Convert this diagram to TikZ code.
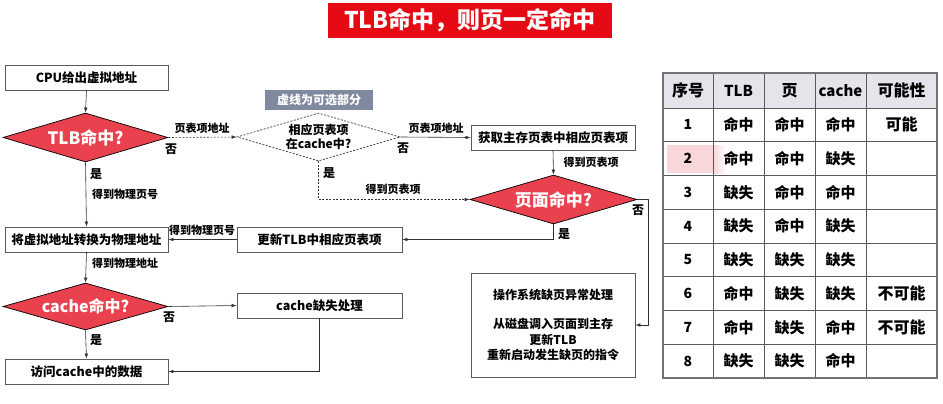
\documentclass[tikz,border=0pt]{standalone}
\usepackage{fontspec}
\setmainfont{Noto Sans CJK SC}
\usetikzlibrary{shapes.geometric,arrows.meta}
\definecolor{dred}{RGB}{234,65,78}
\definecolor{tred}{RGB}{230,10,20}
\definecolor{notegray}{RGB}{128,138,158}
\definecolor{headgray}{RGB}{227,229,234}
\definecolor{pinkhl}{RGB}{249,214,218}
\definecolor{lncol}{RGB}{50,50,50}
\begin{document}
\begin{tikzpicture}[x=1pt,y=-1pt,
  ln/.style={draw=lncol, line width=0.6pt},
  arr/.style={ln, -{Latex[length=5pt,width=3.6pt]}},
  dsh/.style={dash pattern=on 2pt off 1.5pt},
  box/.style={draw=black!65, line width=0.8pt, minimum height=25pt, inner sep=0pt, font=\fontsize{12.5}{14}\selectfont\bfseries},
  dia/.style={diamond, aspect=3.4, draw=black, line width=0.7pt, fill=dred, inner sep=0pt, text=white, font=\fontsize{17}{19}\selectfont\bfseries},
  lab/.style={font=\fontsize{11}{12}\selectfont\bfseries, inner sep=0pt},
  cell/.style={draw=black!65, line width=0.8pt, inner sep=0pt, font=\fontsize{15}{16}\selectfont\bfseries},
]
\useasboundingbox (0,0) rectangle (943,404);
\fill[white] (0,0) rectangle (943,404);

% title
\node[fill=tred, text=white, minimum width=284pt, minimum height=35pt, inner sep=0pt,
  font=\fontsize{23}{25}\selectfont\bfseries] (title) at (470,20.5) {TLB命中，则页一定命中};

% flow nodes
\node[box, minimum width=163pt] (cpu) at (86.5,77.5) {CPU给出虚拟地址};
\node[dia, minimum width=165pt, minimum height=49pt] (tlb) at (85.5,137.5) {TLB命中?};
\node[diamond, aspect=3.4, draw=lncol, dsh, line width=0.7pt, fill=white, inner sep=0pt, minimum width=163pt, minimum height=48pt,
  align=center, font=\fontsize{12}{13.5}\selectfont\bfseries] (opt) at (318.5,137) {相应页表项\\在cache中?};
\node[fill=notegray, text=white, minimum width=108pt, minimum height=20pt, inner sep=0pt,
  font=\fontsize{12}{13}\selectfont\bfseries] (note) at (319,100) {虚线为可选部分};
\node[box, minimum width=164pt] (fetch) at (553,137.5) {获取主存页表中相应页表项};
\node[dia, minimum width=167pt, minimum height=49pt] (page) at (553.5,199.5) {页面命中?};
\node[box, minimum width=165pt] (upd) at (319.5,239.5) {更新TLB中相应页表项};
\node[box, minimum width=163pt] (conv) at (86.5,239.5) {将虚拟地址转换为物理地址};
\node[dia, minimum width=165pt, minimum height=47pt, font=\fontsize{16}{18}\selectfont\bfseries] (cache) at (85.5,306.5) {cache命中?};
\node[box, minimum width=165pt] (miss) at (319.5,305.5) {cache缺失处理};
\node[box, minimum width=163pt] (acc) at (86.5,371.5) {访问cache中的数据};
\node[box, minimum width=164pt, minimum height=104pt, align=center, font=\fontsize{12}{15.5}\selectfont\bfseries] (os) at (553,325)
  {操作系统缺页异常处理\\[13.5pt]从磁盘调入页面到主存\\更新TLB\\重新启动发生缺页的指令};

% connectors
\draw[arr] (cpu.south) -- (tlb.north);
\draw[arr, dsh] (tlb.east) -- (opt.west);
\draw[arr] (opt.east) -- (fetch.west);
\draw[arr, dsh] (opt.south) |- (page.west);
\draw[arr] (fetch.south) -- (page.north);
\coordinate (pr) at (648,199.5);
\draw[arr] (page.east) -- (pr) |- (os.east);
\draw[arr] (page.south) |- (upd.east);
\draw[arr] (upd.west) -- (conv.east);
\draw[arr] (tlb.south) -- (conv.north);
\draw[arr] (conv.south) -- (cache.north);
\draw[arr] (cache.east) -- (miss.west);
\draw[arr] (miss.south) |- (acc.east);
\draw[arr] (cache.south) -- (acc.north);

% labels
\node[lab] (l1) at (202,128) {页表项地址};
\node[lab, font=\fontsize{12}{13}\selectfont\bfseries] (n1) at (171,149) {否};
\node[lab, font=\fontsize{12}{13}\selectfont\bfseries] (y1) at (96,174) {是};
\node[lab] (l2) at (125,194) {得到物理页号};
\node[lab, font=\fontsize{12}{13}\selectfont\bfseries] (n2) at (403,148) {否};
\node[lab] (l3) at (436,128) {页表项地址};
\node[lab, font=\fontsize{12}{13}\selectfont\bfseries] (y2) at (329,173) {是};
\node[lab] (l4) at (393,189) {得到页表项};
\node[lab] (l5) at (591,162) {得到页表项};
\node[lab, font=\fontsize{12}{13}\selectfont\bfseries] (n3) at (638,210) {否};
\node[lab, font=\fontsize{12}{13}\selectfont\bfseries] (y3) at (564,234) {是};
\node[lab] (l6) at (202,230) {得到物理页号};
\node[lab] (l7) at (125,263) {得到物理地址};
\node[lab, font=\fontsize{12}{13}\selectfont\bfseries] (n4) at (169,317) {否};
\node[lab, font=\fontsize{12}{13}\selectfont\bfseries] (y4) at (96,340) {是};

% table
\fill[pinkhl] (667,145) rectangle (714,173);
\shade[left color=pinkhl, right color=white] (714,145) rectangle (726,173);
\foreach \cx/\cw [count=\j] in {688/50, 738.5/51, 789.5/51, 840.5/51, 901.5/71} {
  \node[cell, fill=headgray, minimum width=\cw pt, minimum height=35pt, font=\fontsize{16}{17}\selectfont\bfseries] (h-\j) at (\cx,90.5) {};
}
\node[font=\fontsize{16}{17}\selectfont\bfseries] (ht1) at (h-1) {序号};
\node[font=\fontsize{15}{17}\selectfont\bfseries] (ht2) at (h-2) {TLB};
\node[font=\fontsize{16}{17}\selectfont\bfseries] (ht3) at (h-3) {页};
\node[font=\fontsize{15}{17}\selectfont\bfseries] (ht4) at (h-4) {cache};
\node[font=\fontsize{16}{17}\selectfont\bfseries] (ht5) at (h-5) {可能性};
\foreach \a/\b/\c/\d/\e [count=\i] in {
  1/命中/命中/命中/可能,
  2/命中/命中/缺失/{},
  3/缺失/命中/命中/{},
  4/缺失/命中/缺失/{},
  5/缺失/缺失/缺失/{},
  6/命中/缺失/缺失/不可能,
  7/命中/缺失/命中/不可能,
  8/缺失/缺失/命中/{}} {
  \pgfmathsetmacro{\yy}{108+(\i-1)*33.75+16.875}
  \node[cell, minimum width=50pt, minimum height=33.75pt, font=\fontsize{14}{15}\selectfont\bfseries] (r\i-1) at (688,\yy) {\a};
  \node[cell, minimum width=51pt, minimum height=33.75pt] (r\i-2) at (738.5,\yy) {\b};
  \node[cell, minimum width=51pt, minimum height=33.75pt] (r\i-3) at (789.5,\yy) {\c};
  \node[cell, minimum width=51pt, minimum height=33.75pt] (r\i-4) at (840.5,\yy) {\d};
  \node[cell, minimum width=71pt, minimum height=33.75pt, font=\fontsize{16}{17}\selectfont\bfseries] (r\i-5) at (901.5,\yy) {\e};
}
\draw[draw=black!55, line width=1.3pt] (663,73) rectangle (937,378);
\end{tikzpicture}
\end{document}
